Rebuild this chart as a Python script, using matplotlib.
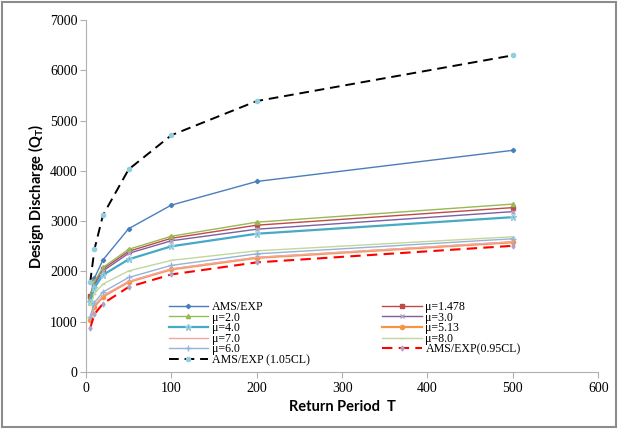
import matplotlib
matplotlib.use("Agg")
from matplotlib import pyplot as plt
from matplotlib.patches import Rectangle

# return periods and design discharge
T = [5, 10, 20, 50, 100, 200, 500]

q_ams = [1500, 1870, 2230, 2850, 3320, 3790, 4410]
q_mu1478 = [1510, 1780, 2050, 2400, 2660, 2920, 3270]
q_mu2 = [1480, 1800, 2080, 2440, 2700, 2980, 3340]
q_mu3 = [1420, 1740, 2010, 2360, 2610, 2840, 3190]
q_mu4 = [1400, 1680, 1930, 2240, 2500, 2750, 3080]
q_mu513 = [1040, 1300, 1500, 1790, 2040, 2270, 2580]
q_mu7 = [1060, 1320, 1520, 1800, 2050, 2280, 2590]
q_mu8 = [1330, 1560, 1750, 2010, 2220, 2410, 2690]
q_mu6 = [1100, 1380, 1590, 1880, 2120, 2350, 2650]
q_l095 = [870, 1150, 1360, 1690, 1940, 2180, 2510]
q_u105 = [1780, 2440, 3120, 4030, 4710, 5390, 6300]

serif = "Liberation Serif"

fig = plt.figure(figsize=(6.18, 4.29), dpi=100)
fig.patches.append(Rectangle((0.004, 0.005), 0.992, 0.99, transform=fig.transFigure,
                             fill=False, edgecolor="#8c8c8c", linewidth=1.5))
ax = fig.add_axes([0.139, 0.133, 0.829, 0.82])

ms = 3
(p1,) = ax.plot(T, q_ams, "-", color="#4a7ebb", marker="D", ms=2.2, lw=1.0, label="AMS/EXP")
(p2,) = ax.plot(T, q_mu1478, "-", color="#be4b48", marker="s", ms=ms, lw=1.0, label="\u03bc=1.478")
(p3,) = ax.plot(T, q_mu2, "-", color="#98b954", marker="^", ms=ms, lw=1.0, label="\u03bc=2.0")
(p4,) = ax.plot(T, q_mu3, "-", color="#7d60a0", marker="x", ms=ms, mec="#b3a2c7", lw=1.0, label="\u03bc=3.0")
(p5,) = ax.plot(T, q_mu4, "-", color="#46aac5", marker="*", ms=4.5, mec="#93cddd", lw=1.6, label="\u03bc=4.0")
(p6,) = ax.plot(T, q_mu513, "-", color="#f69545", marker="o", ms=ms, lw=1.6, label="\u03bc=5.13")
(p7,) = ax.plot(T, q_mu7, "-", color="#f2a5a3", lw=1.0, label="\u03bc=7.0")
(p8,) = ax.plot(T, q_mu8, "-", color="#c3d69b", marker="_", ms=ms, lw=1.0, label="\u03bc=8.0")
(p9,) = ax.plot(T, q_mu6, "-", color="#95b3d7", marker="+", ms=4.5, lw=1.0, label="\u03bc=6.0")
(p10,) = ax.plot(T, q_l095, "--", color="#ff0000", marker="d", ms=2.5, mfc="#b3a2c7", mec="#b3a2c7",
                 lw=1.5, dashes=(5, 3), label="AMS/EXP(0.95CL)")
(p11,) = ax.plot(T, q_u105, "--", color="black", marker="o", ms=3, mfc="#93cddd", mec="#93cddd",
                 lw=1.4, dashes=(5, 3), label="AMS/EXP (1.05CL)")

ax.set_xlim(0, 600)
ax.set_ylim(0, 7000)
ax.set_xticks(range(0, 601, 100))
ax.set_yticks(range(0, 7001, 1000))
for s in ["top", "right"]:
    ax.spines[s].set_visible(False)
for s in ["left", "bottom"]:
    ax.spines[s].set_color("#b0b0b0")
ax.tick_params(colors="#b0b0b0", length=4, labelcolor="black", labelsize=10)
ax.tick_params(axis="y", pad=2)
for lab in ax.get_xticklabels() + ax.get_yticklabels():
    lab.set_fontfamily(serif)

ax.set_xlabel("Return Period  T", fontsize=10.5, fontweight="bold", family="Lato", labelpad=3)
ax.set_ylabel("Design Discharge (Q$_\\mathregular{T}$)", fontsize=10.5, fontweight="bold",
              family="Lato", labelpad=3)

handles = [p1, p3, p5, p7, p9, p11, p2, p4, p6, p8, p10]
ax.legend(handles, [h.get_label() for h in handles], ncol=2, frameon=False,
          loc="upper left", bbox_to_anchor=(0.152, 0.215), borderaxespad=0,
          prop={"family": serif, "size": 8.6}, labelspacing=-0.12,
          handlelength=3.3, handletextpad=0.3, columnspacing=6.1)

fig.savefig("out.png", dpi=100)
